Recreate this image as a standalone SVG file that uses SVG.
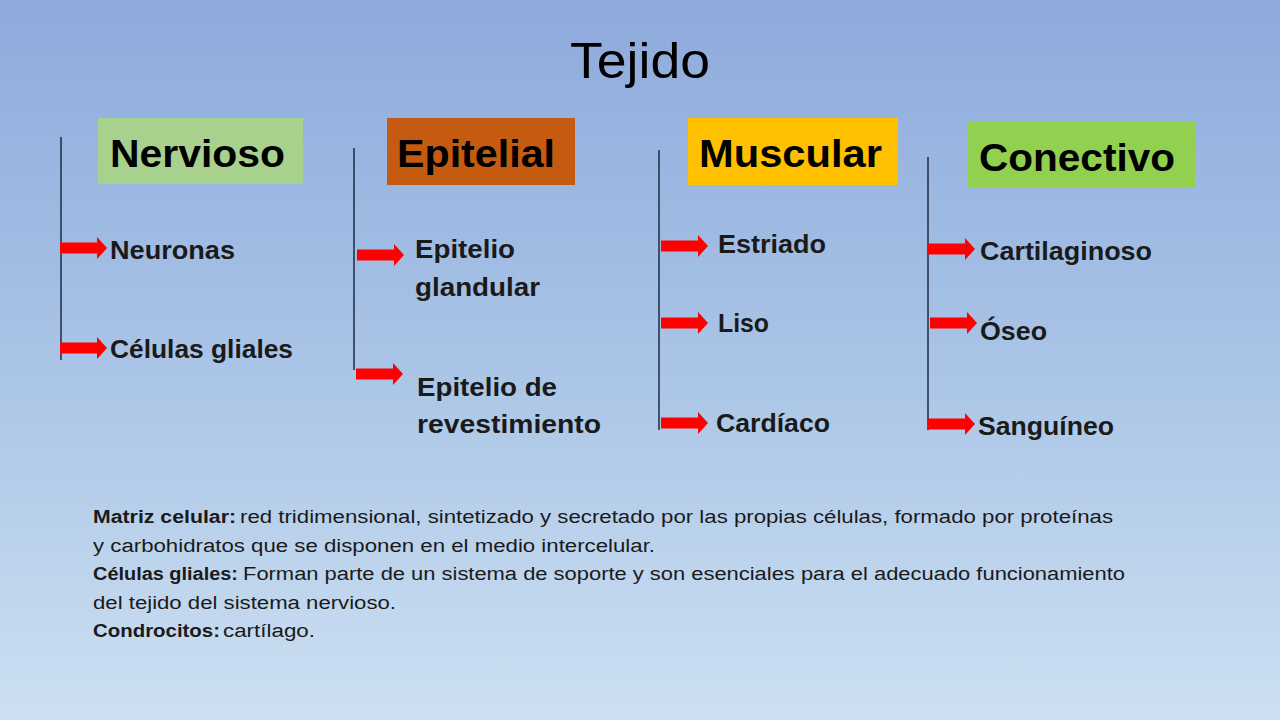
<svg xmlns="http://www.w3.org/2000/svg" xmlns:xlink="http://www.w3.org/1999/xlink" width="1280" height="720" viewBox="0 0 1280 720">
<defs>
<linearGradient id="bg" x1="0" y1="0" x2="0" y2="1">
<stop offset="0" stop-color="#8eaadc"/>
<stop offset="0.5" stop-color="#a9c4e6"/>
<stop offset="1" stop-color="#cde0f2"/>
</linearGradient>
<path id="arr" d="M0,-5.5 H37 V-11 L47,0 L37,11 V5.5 H0 Z" fill="#ff0000"/>
<style>
.hd{font-family:"Liberation Sans",Arial,sans-serif;font-weight:bold;font-size:39px;fill:#000}
.lb{font-family:"Liberation Sans",Arial,sans-serif;font-weight:bold;font-size:25px;fill:#1a1a1a}
.tx{font-family:"Liberation Sans",Arial,sans-serif;font-size:18px;fill:#1a1a1a}
.b{font-weight:bold}
.vl{stroke:#1f2a44;stroke-width:1.5;fill:none}
</style>
</defs>
<rect x="0" y="0" width="1280" height="720" fill="url(#bg)"/>
<text x="640" y="78" text-anchor="middle" font-family="Liberation Sans, Arial, sans-serif" font-size="50" fill="#000" textLength="140" lengthAdjust="spacingAndGlyphs">Tejido</text>

<g id="connectors">
<line class="vl" x1="61" y1="137" x2="61" y2="360"/>
<line class="vl" x1="354" y1="148" x2="354" y2="370"/>
<line class="vl" x1="659" y1="150" x2="659" y2="430"/>
<line class="vl" x1="928" y1="157" x2="928" y2="430"/>
<use xlink:href="#arr" href="#arr" x="60" y="248"/>
<use xlink:href="#arr" href="#arr" x="60" y="348"/>
<use xlink:href="#arr" href="#arr" x="357" y="255"/>
<use xlink:href="#arr" href="#arr" x="356" y="374"/>
<use xlink:href="#arr" href="#arr" x="661" y="246"/>
<use xlink:href="#arr" href="#arr" x="661" y="323"/>
<use xlink:href="#arr" href="#arr" x="661" y="423"/>
<use xlink:href="#arr" href="#arr" x="928" y="249"/>
<use xlink:href="#arr" href="#arr" x="930" y="323"/>
<use xlink:href="#arr" href="#arr" x="928" y="424"/>
</g>

<g id="nervioso">
<rect x="98" y="118" width="205" height="66" fill="#a9d18e"/>
<text class="hd" x="110" y="167" textLength="175" lengthAdjust="spacingAndGlyphs">Nervioso</text>
</g>
<g id="epitelial">
<rect x="387" y="118" width="188" height="67" fill="#c55a11"/>
<text class="hd" x="397" y="167" textLength="158" lengthAdjust="spacingAndGlyphs">Epitelial</text>
</g>
<g id="muscular">
<rect x="688" y="118" width="210" height="67" fill="#ffc000"/>
<text class="hd" x="699" y="167" textLength="183" lengthAdjust="spacingAndGlyphs">Muscular</text>
</g>
<g id="conectivo">
<rect x="968" y="121" width="227" height="66" fill="#92d050"/>
<text class="hd" x="979" y="171" textLength="196" lengthAdjust="spacingAndGlyphs">Conectivo</text>
</g>

<g id="neuronas"><text class="lb" x="110" y="259" textLength="125" lengthAdjust="spacingAndGlyphs">Neuronas</text></g>
<g id="celulas-gliales"><text class="lb" x="110" y="358" textLength="183" lengthAdjust="spacingAndGlyphs">Células gliales</text></g>
<g id="epitelio-glandular">
<text class="lb" x="415" y="258" textLength="100" lengthAdjust="spacingAndGlyphs">Epitelio</text>
<text class="lb" x="415" y="296" textLength="125" lengthAdjust="spacingAndGlyphs">glandular</text>
</g>
<g id="epitelio-revestimiento">
<text class="lb" x="417" y="396" textLength="140" lengthAdjust="spacingAndGlyphs">Epitelio de</text>
<text class="lb" x="417" y="433" textLength="184" lengthAdjust="spacingAndGlyphs">revestimiento</text>
</g>
<g id="estriado"><text class="lb" x="718" y="253" textLength="108" lengthAdjust="spacingAndGlyphs">Estriado</text></g>
<g id="liso"><text class="lb" x="718" y="332" textLength="51" lengthAdjust="spacingAndGlyphs">Liso</text></g>
<g id="cardiaco"><text class="lb" x="716" y="432" textLength="114" lengthAdjust="spacingAndGlyphs">Cardíaco</text></g>
<g id="cartilaginoso"><text class="lb" x="980" y="260" textLength="172" lengthAdjust="spacingAndGlyphs">Cartilaginoso</text></g>
<g id="oseo"><text class="lb" x="980" y="340" textLength="67" lengthAdjust="spacingAndGlyphs">Óseo</text></g>
<g id="sanguineo"><text class="lb" x="978" y="435" textLength="136" lengthAdjust="spacingAndGlyphs">Sanguíneo</text></g>

<g id="notas">
<text class="tx b" x="93" y="523" textLength="143" lengthAdjust="spacingAndGlyphs">Matriz celular:</text>
<text class="tx" x="240" y="523" textLength="873" lengthAdjust="spacingAndGlyphs">red tridimensional, sintetizado y secretado por las propias células, formado por proteínas</text>
<text class="tx" x="93" y="552" textLength="562" lengthAdjust="spacingAndGlyphs">y carbohidratos que se disponen en el medio intercelular.</text>
<text class="tx b" x="93" y="580" textLength="145" lengthAdjust="spacingAndGlyphs">Células gliales:</text>
<text class="tx" x="243" y="580" textLength="882" lengthAdjust="spacingAndGlyphs">Forman parte de un sistema de soporte y son esenciales para el adecuado funcionamiento</text>
<text class="tx" x="93" y="609" textLength="303" lengthAdjust="spacingAndGlyphs">del tejido del sistema nervioso.</text>
<text class="tx b" x="93" y="637" textLength="127" lengthAdjust="spacingAndGlyphs">Condrocitos:</text>
<text class="tx" x="223" y="637" textLength="92" lengthAdjust="spacingAndGlyphs">cartílago.</text>
</g>
</svg>
